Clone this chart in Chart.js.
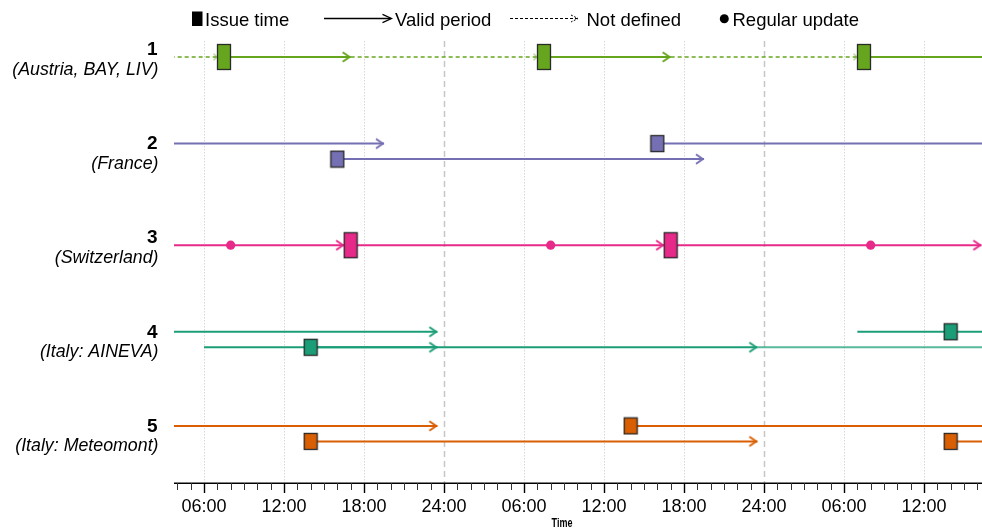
<!DOCTYPE html>
<html><head><meta charset="utf-8">
<script src="https://cdn.jsdelivr.net/npm/chart.js@4.4.1/dist/chart.umd.min.js"></script>
<style>html,body{margin:0;padding:0;background:#fff;overflow:hidden;} #wrap{width:982px;height:529px;position:relative;}</style>
</head><body><div id="wrap"><canvas id="c"></canvas></div>
<script>
// ---------------- data ----------------
const rowNumbers = ['1','2','3','4','5'];
const rowNames = ['(Austria, BAY, LIV)','(France)','(Switzerland)','(Italy: AINEVA)','(Italy: Meteomont)'];
const tickHours = [6,12,18,24,30,36,42,48,54,60];
const tickLabels = ['06:00','12:00','18:00','24:00','06:00','12:00','18:00','24:00','06:00','12:00'];
const legendLabels = ['Issue time','Valid period','Not defined','Regular update'];
const axisTitle = 'Time';
const xMin = 3.75, xMax = 64.35;

// Row 1 – Austria, BAY, LIV
const austriaIssues = [7.5, 31.5, 55.5];
const austriaValidFrom = [7.5, 31.5, 55.5];
const austriaValidTo = [17, 41, 65];
const austriaUndefFrom = [-7, 17, 41];
const austriaUndefTo = [7.5, 31.5, 55.5];
// Row 2 – France (lane 0 = upper, 1 = lower)
const franceIssues = [16, 40];
const franceIssueLane = [1, 0];
const franceValidFrom = [-8, 16, 40];
const franceValidTo = [19.5, 43.5, 67.5];
const franceValidLane = [0, 1, 0];
// Row 3 – Switzerland
const swissIssues = [17, 41];
const swissValidFrom = [-7, 17, 41];
const swissValidTo = [17, 41, 64.3];
const swissUpdates = [8, 32, 56];
// Row 4 – Italy: AINEVA
const ainevaIssues = [14, 62];
const ainevaIssueLane = [1, 0];
const ainevaValidFrom = [-10, 6, 14, 47.5, 55];
const ainevaValidTo = [23.5, 23.5, 47.5, 70, 70];
const ainevaValidLane = [0, 1, 1, 1, 0];
// Row 5 – Italy: Meteomont
const meteoIssues = [14, 38, 62];
const meteoIssueLane = [1, 0, 1];
const meteoValidFrom = [-10, 14, 38, 62];
const meteoValidTo = [23.5, 47.5, 71.5, 71.5];
const meteoValidLane = [0, 1, 0, 1];

// ---------------- style ----------------
const FONT = "'Liberation Sans', Arial, sans-serif";
const rowColors = ['#66a61e','#7570b3','#e7298a','#1b9e77','#d95f02'];
const boxW = 13;
const boxH = [25, 16, 25, 16, 16];
const laneOffset = [-0.08, 0.085];

function chevron(color, len, half, lw, tipOffset, dash) {
  const w = Math.ceil(2 * (len + tipOffset + lw + 2));
  const h = Math.ceil(2 * (half + lw + 1));
  const c = document.createElement('canvas'); c.width = w; c.height = h;
  const g = c.getContext('2d');
  const tipX = w / 2 - tipOffset, cy = h / 2;
  g.strokeStyle = color; g.lineWidth = lw; g.lineJoin = 'miter';
  if (dash) g.setLineDash(dash);
  g.beginPath(); g.moveTo(tipX - len, cy - half); g.lineTo(tipX - lw * 0.6, cy); g.lineTo(tipX - len, cy + half); g.stroke();
  return c;
}
function boxImg(color, w, h) {
  const c = document.createElement('canvas'); c.width = w + 3; c.height = h + 3;
  const g = c.getContext('2d');
  g.fillStyle = color; g.fillRect(1.5, 1.5, w, h);
  g.strokeStyle = '#2a2a2a'; g.lineWidth = 1.3; g.strokeRect(1.5, 1.5, w, h);
  return c;
}
const laneY = (row, lane) => row + (lane === undefined || lane === null ? 0 : laneOffset[lane]);

const datasets = [];
function addValid(rowIdx, from, to, lanes, issues, alphaIdx) {
  const color = rowColors[rowIdx];
  from.forEach((f, i) => {
    const y = laneY(rowIdx + 1, lanes ? lanes[i] : null);
    const intoBox = issues.includes(to[i]);
    const arrow = chevron(color, 8, 4.7, 2, intoBox ? boxW / 2 : 0);
    const c = (alphaIdx && alphaIdx.includes(i)) ? color + 'bb' : color;
    datasets.push({
      type: 'line', data: [{x: f, y}, {x: to[i], y}],
      borderColor: c, borderWidth: 2, tension: 0, fill: false, borderCapStyle: 'butt',
      pointRadius: [0, 4], pointHoverRadius: 0, pointBorderWidth: 0,
      pointStyle: arrow, order: 3
    });
  });
}
function addIssues(rowIdx, issues, lanes) {
  const img = boxImg(rowColors[rowIdx], boxW, boxH[rowIdx]);
  datasets.push({
    type: 'line', showLine: false,
    data: issues.map((t, i) => ({x: t, y: laneY(rowIdx + 1, lanes ? lanes[i] : null)})),
    pointRadius: 6, pointHoverRadius: 0, pointStyle: img, pointBorderWidth: 0, order: 1
  });
}
// Row 1 undefined periods (dashed)
austriaUndefFrom.forEach((f, i) => {
  const y = laneY(1, null);
  datasets.push({
    type: 'line', data: [{x: f, y}, {x: austriaUndefTo[i], y}],
    borderColor: rowColors[0], borderWidth: 1.5, borderDash: [4, 3], tension: 0, fill: false,
    pointRadius: [0, 3], pointHoverRadius: 0, pointBorderWidth: 0,
    pointStyle: chevron(rowColors[0], 4, 3.2, 1, boxW / 2), order: 4
  });
});
addValid(0, austriaValidFrom, austriaValidTo, null, austriaIssues);
addValid(1, franceValidFrom, franceValidTo, franceValidLane, franceIssues);
addValid(2, swissValidFrom, swissValidTo, null, swissIssues);
addValid(3, ainevaValidFrom, ainevaValidTo, ainevaValidLane, ainevaIssues, [3]);
addValid(4, meteoValidFrom, meteoValidTo, meteoValidLane, meteoIssues);
datasets.push({
  type: 'line', showLine: false, data: swissUpdates.map(t => ({x: t, y: 3})),
  pointRadius: 4.6, pointHoverRadius: 0, pointStyle: 'circle',
  pointBackgroundColor: rowColors[2], pointBorderWidth: 0, order: 2
});
addIssues(0, austriaIssues, null);
addIssues(1, franceIssues, franceIssueLane);
addIssues(2, swissIssues, null);
addIssues(3, ainevaIssues, ainevaIssueLane);
addIssues(4, meteoIssues, meteoIssueLane);

// ---------------- plugins ----------------
const gridPlugin = {
  id: 'grid6',
  beforeDatasetsDraw(chart) {
    const {ctx, chartArea: a, scales: {x}} = chart;
    ctx.save();
    x.ticks.forEach(t => {
      const v = t.value;
      if (v % 6 !== 0) return;
      const px = Math.round(x.getPixelForValue(v)) + 0.5;
      if (v % 24 === 0) { ctx.strokeStyle = '#c6c6c6'; ctx.lineWidth = 1.5; ctx.setLineDash([6, 4]); }
      else { ctx.strokeStyle = '#d6d6d6'; ctx.lineWidth = 1; ctx.setLineDash([1.5, 1.5]); }
      ctx.beginPath(); ctx.moveTo(px, a.top); ctx.lineTo(px, a.bottom); ctx.stroke();
    });
    ctx.restore();
  },
  afterDraw(chart) {
    const {ctx, chartArea: a, scales: {x, y}} = chart;
    ctx.save();
    // axis line and ticks
    ctx.strokeStyle = '#000'; ctx.lineWidth = 1.4; ctx.setLineDash([]);
    ctx.beginPath(); ctx.moveTo(a.left, a.bottom + 0.3); ctx.lineTo(a.right, a.bottom + 0.3); ctx.stroke();
    x.ticks.forEach(t => {
      const px = Math.round(x.getPixelForValue(t.value)) + 0.5;
      const major = t.value % 6 === 0;
      ctx.strokeStyle = major ? '#000' : '#333';
      ctx.lineWidth = major ? 1.4 : 1;
      ctx.beginPath(); ctx.moveTo(px, a.bottom); ctx.lineTo(px, a.bottom + (major ? 10 : 7)); ctx.stroke();
    });
    // row labels
    ctx.fillStyle = '#000'; ctx.textAlign = 'right'; ctx.textBaseline = 'alphabetic';
    rowNumbers.forEach((n, i) => {
      const py = y.getPixelForValue(i + 1);
      ctx.font = 'bold 19px ' + FONT;
      ctx.fillText(n, 157.5, py - 1.8);
      ctx.font = 'italic 17.8px ' + FONT;
      ctx.fillText(rowNames[i], 158.5, py + 18);
    });
    // axis title
    ctx.save();
    ctx.translate((a.left + a.right) / 2 - 16, a.bottom + 41);
    ctx.scale(0.75, 1);
    ctx.font = 'bold 12px ' + FONT; ctx.textAlign = 'center'; ctx.textBaseline = 'middle';
    ctx.fillText(axisTitle, 0, 0);
    ctx.restore();
    // legend
    ctx.textAlign = 'left'; ctx.textBaseline = 'alphabetic'; ctx.font = '18.5px ' + FONT; ctx.fillStyle = '#000';
    ctx.fillRect(192, 11.5, 10.5, 14.5);
    ctx.fillText(legendLabels[0], 205, 25.5);
    ctx.strokeStyle = '#000'; ctx.lineWidth = 1.3;
    ctx.beginPath(); ctx.moveTo(324, 18.5); ctx.lineTo(391, 18.5); ctx.stroke();
    ctx.beginPath(); ctx.moveTo(382.5, 14.3); ctx.lineTo(391.5, 18.5); ctx.lineTo(382.5, 22.7); ctx.stroke();
    ctx.fillText(legendLabels[1], 395, 25.5);
    ctx.lineWidth = 1; ctx.setLineDash([3, 2]);
    ctx.beginPath(); ctx.moveTo(510, 18.5); ctx.lineTo(577, 18.5); ctx.stroke();
    ctx.setLineDash([2, 1.5]);
    ctx.beginPath(); ctx.moveTo(571, 15); ctx.lineTo(578, 18.5); ctx.lineTo(571, 22); ctx.stroke();
    ctx.setLineDash([]);
    ctx.fillText(legendLabels[2], 586.5, 25.5);
    ctx.beginPath(); ctx.arc(724.3, 18.7, 4.5, 0, Math.PI * 2); ctx.fill();
    ctx.fillText(legendLabels[3], 732.5, 25.5);
    ctx.restore();
  }
};

new Chart(document.getElementById('c'), {
  type: 'line',
  data: {datasets},
  options: {
    responsive: true, maintainAspectRatio: false, animation: false, events: [],
    layout: {autoPadding: false, padding: {left: 174, top: 41, right: 0, bottom: 0}},
    plugins: {legend: {display: false}, tooltip: {enabled: false}},
    scales: {
      x: {
        type: 'linear', min: xMin, max: xMax,
        grid: {display: false, drawTicks: false}, border: {display: false},
        ticks: {
          stepSize: 1, includeBounds: false, autoSkip: false, maxRotation: 0, padding: 13,
          color: '#000', font: {family: FONT, size: 18},
          callback: v => { const i = tickHours.indexOf(v); return i >= 0 ? tickLabels[i] : ''; }
        },
        afterFit: s => { s.height = 46; s.paddingLeft = 0; s.paddingRight = 0; }
      },
      y: {type: 'linear', display: false, min: 0.83, max: 5.527, reverse: true}
    }
  },
  plugins: [gridPlugin]
});
</script></body></html>
